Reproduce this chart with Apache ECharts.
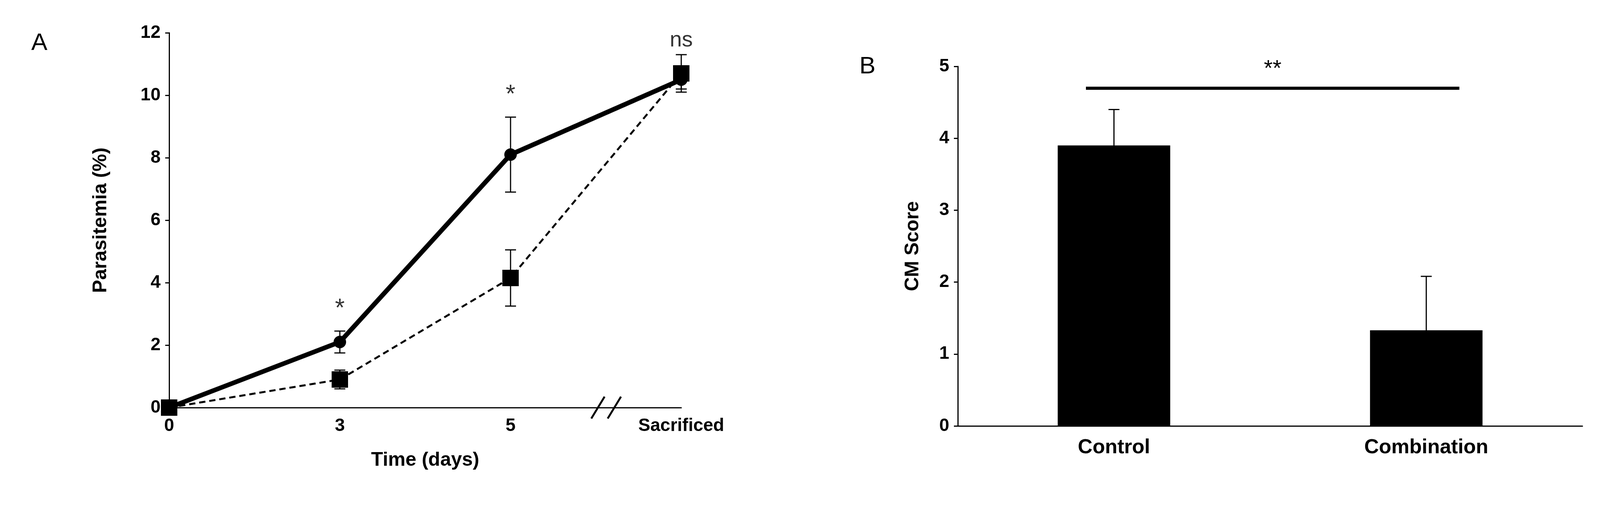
<!DOCTYPE html>
<html>
<head>
<meta charset="utf-8">
<script src="https://cdn.jsdelivr.net/npm/echarts@6/dist/echarts.min.js"></script>
<style>html,body{margin:0;padding:0;background:#fff}#c{width:4111px;height:1314px}</style>
</head>
<body>
<div id="c"></div>
<script>
// 面板A数据
const timeLabels = ['0', '3', '5', 'Sacrificed'];
const controlMean = [0, 2.1, 8.1, 10.5];
const controlErr = [0, 0.35, 1.2, 0.3];
const comboMean = [0, 0.9, 4.15, 10.7];
const comboErr = [0, 0.3, 0.9, 0.6];
const starsA = [['3', 3.15, '*'], ['5', 10.0, '*'], ['Sacrificed', 11.75, 'ns']];

// 面板B数据
const groups = ['Control', 'Combination'];
const cmScore = [3.9, 1.33];
const cmErr = [0.5, 0.75];

const font = 'Liberation Sans, Arial, sans-serif';

// 误差线(custom series)
const errSeries = (xIdx, yIdx, cats, mean, err, w, cap, z) => ({
  type: 'custom', xAxisIndex: xIdx, yAxisIndex: yIdx, z: z,
  data: cats.map((c, i) => [c, mean[i] - err[i], mean[i] + err[i]]),
  renderItem: (params, api) => {
    const lo = api.coord([api.value(0), api.value(1)]);
    const hi = api.coord([api.value(0), api.value(2)]);
    const s = {stroke: '#000', lineWidth: w};
    return {type: 'group', children: [
      {type: 'line', shape: {x1: lo[0], y1: lo[1], x2: hi[0], y2: hi[1]}, style: s},
      {type: 'line', shape: {x1: hi[0] - cap, y1: hi[1], x2: hi[0] + cap, y2: hi[1]}, style: s},
      {type: 'line', shape: {x1: lo[0] - cap, y1: lo[1], x2: lo[0] + cap, y2: lo[1]}, style: s}
    ]};
  }
});

const textSeries = (xIdx, yIdx, rows, size) => ({
  type: 'scatter', xAxisIndex: xIdx, yAxisIndex: yIdx, symbolSize: 0,
  data: rows.map(r => ({value: [r[0], r[1]], label: {formatter: r[2], fontSize: r[2] === '*' ? 64 : size}})),
  label: {show: true, position: 'inside', color: '#000', fontSize: size, fontFamily: font}
});

const axisTxt = {color: '#000', fontSize: 46, fontWeight: 'bold', fontFamily: font};
const nameTxt = {color: '#000', fontSize: 50, fontWeight: 'bold', fontFamily: font};
const line = {show: true, lineStyle: {color: '#000', width: 3}};

const chart = echarts.init(document.getElementById('c'));
chart.setOption({
  animation: false,
  grid: [
    {left: 433, top: 84, width: 1311, bottom: 270},
    {left: 2452, top: 170, right: 60, bottom: 223}
  ],
  xAxis: [
    {gridIndex: 0, type: 'category', data: timeLabels, boundaryGap: false,
     axisLine: line, axisTick: {show: false}, axisLabel: Object.assign({margin: 24}, axisTxt),
     name: 'Time (days)', nameLocation: 'middle', nameGap: 110, nameTextStyle: nameTxt},
    {gridIndex: 1, type: 'category', data: groups,
     axisLine: line, axisTick: {show: false}, axisLabel: Object.assign({margin: 30}, axisTxt, {fontSize: 52})}
  ],
  yAxis: [
    {gridIndex: 0, type: 'value', min: 0, max: 12, interval: 2, splitLine: {show: false},
     axisLine: line, axisTick: {show: true, length: 10, lineStyle: {color: '#000', width: 3}},
     axisLabel: Object.assign({margin: 22}, axisTxt),
     name: 'Parasitemia (%)', nameLocation: 'middle', nameGap: 150, nameTextStyle: nameTxt},
    {gridIndex: 1, type: 'value', min: 0, max: 5, interval: 1, splitLine: {show: false},
     axisLine: line, axisTick: {show: true, length: 10, lineStyle: {color: '#000', width: 3}},
     axisLabel: Object.assign({margin: 22}, axisTxt),
     name: 'CM Score', nameLocation: 'middle', nameGap: 90, nameTextStyle: nameTxt}
  ],
  series: [
    errSeries(0, 0, timeLabels, controlMean, controlErr, 3, 14, 1),
    errSeries(0, 0, timeLabels, comboMean, comboErr, 3, 14, 1),
    {type: 'line', xAxisIndex: 0, yAxisIndex: 0, data: controlMean, z: 3,
     lineStyle: {color: '#000', width: 12}, symbol: 'circle', symbolSize: 32,
     itemStyle: {color: '#000'}},
    {type: 'line', xAxisIndex: 0, yAxisIndex: 0, data: comboMean, z: 4,
     lineStyle: {color: '#000', width: 5, type: [16, 10]}, symbol: 'rect', symbolSize: 42,
     itemStyle: {color: '#000'}},
    textSeries(0, 0, starsA, 56),
    {type: 'bar', xAxisIndex: 1, yAxisIndex: 1, data: cmScore, barWidth: 288,
     itemStyle: {color: '#000'}, z: 2,
     markLine: {symbol: 'none', silent: true, label: {show: true, formatter: '**', position: 'middle',
       color: '#000', fontSize: 58, fontFamily: font, distance: 18},
       lineStyle: {color: '#000', width: 8, type: 'solid'},
       data: [[{coord: ['Control', 4.7], x: 2780}, {coord: ['Combination', 4.7], x: 3736}]]}},
    errSeries(1, 1, groups, cmScore, cmErr, 3, 14, 3)
  ]
});

// 坐标轴断裂标记 "//"
const p = chart.convertToPixel({xAxisIndex: 0, yAxisIndex: 0}, ['5', 0]);
const q = chart.convertToPixel({xAxisIndex: 0, yAxisIndex: 0}, ['Sacrificed', 0]);
const bx = p[0] + (q[0] - p[0]) * 0.56;
chart.setOption({graphic: [
  {type: 'text', left: 80, top: 80, style: {text: 'A', fontSize: 62, fontFamily: font, fill: '#000'}},
  {type: 'text', left: 2200, top: 140, style: {text: 'B', fontSize: 62, fontFamily: font, fill: '#000'}},
  {type: 'rect', shape: {x: bx - 22, y: p[1] - 4, width: 44, height: 8}, style: {fill: '#fff'}},
  {type: 'line', shape: {x1: bx - 38, y1: p[1] + 28, x2: bx - 4, y2: p[1] - 28}, style: {stroke: '#000', lineWidth: 5}},
  {type: 'line', shape: {x1: bx + 4, y1: p[1] + 28, x2: bx + 38, y2: p[1] - 28}, style: {stroke: '#000', lineWidth: 5}}
]});
</script>
</body>
</html>
